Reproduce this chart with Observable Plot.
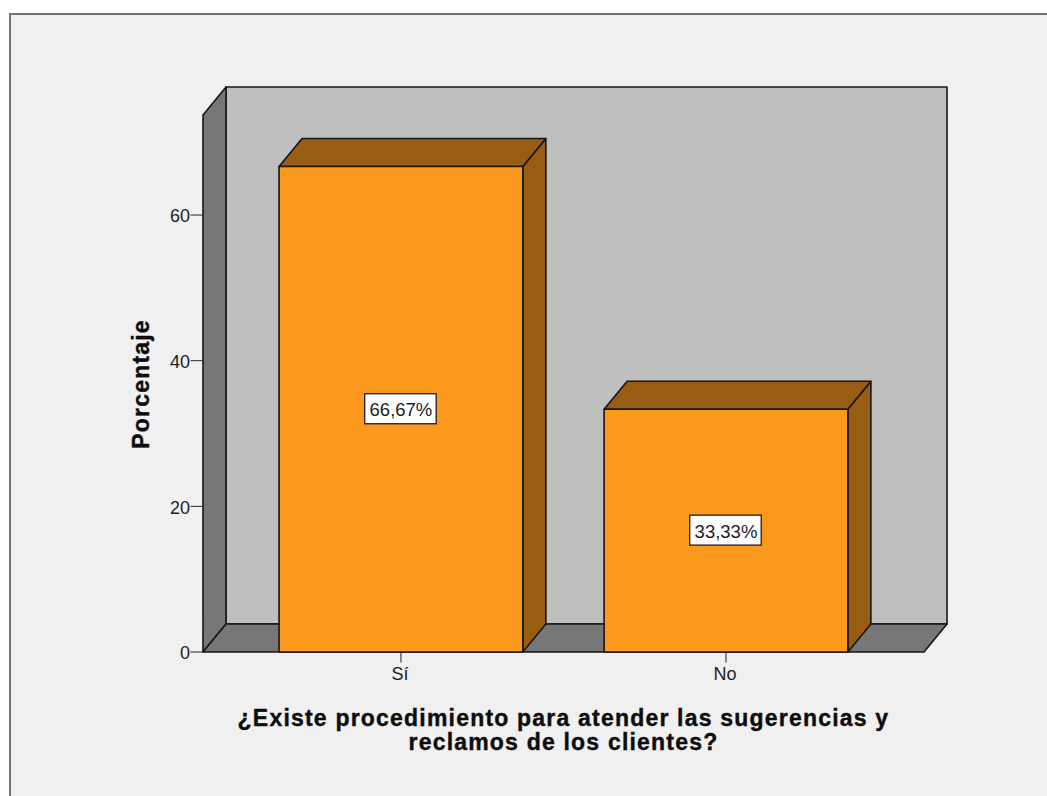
<!DOCTYPE html>
<html lang="es">
<head>
<meta charset="utf-8">
<script src="https://cdn.jsdelivr.net/npm/d3@7"></script>
<script src="https://cdn.jsdelivr.net/npm/@observablehq/plot@0.6"></script>
<style>
  html, body { margin: 0; padding: 0; background: #ffffff; }
  #panel { position: absolute; left: 9px; top: 13px; width: 1038px; height: 783px;
           background: #f0f0f0; border-top: 2px solid #737373; border-left: 2px solid #737373; box-sizing: border-box; }
  #chart { position: absolute; left: 0; top: 0; }
  #chart svg { background: transparent; display: block; }
  .axis-title { letter-spacing: 1.2px; }
</style>
</head>
<body>
<div id="panel"></div>
<div id="chart"></div>
<script>
// Survey answers, in percent
const categories = ["Sí", "No"];
const percentages = [66.67, 33.33];
const percentLabels = ["66,67%", "33,33%"];
const yTicks = [0, 20, 40, 60];

const xTitle = "¿Existe procedimiento para atender las sugerencias y\nreclamos de los clientes?";
const yTitle = "Porcentaje";

// Extent of the 3D box, in data units of each axis
const xMin = -0.609, xMax = 1.68, yMax = 77.58;
const depthX = 0.0708, depthY = 3.84;
const barHalf = 0.375;
const boxHalfX = 0.11, boxHalfY = 2.06;

const ink = "#161616";
const colors = { wall: "#bfbfbf", side: "#777777", bar: "#fb991e", barShade: "#985c12" };

const frontRight = xMax - depthX;
const wallTop = yMax - depthY;

// Each face is a closed polygon in data space
const poly = (pts) => [...pts, pts[0]].map(([x, y]) => ({ x, y }));
const face = (pts, fill) => Plot.line(poly(pts), {
  x: "x", y: "y", fill, stroke: ink, strokeWidth: 1.6, strokeLinejoin: "round", curve: "linear"
});

const shell = [
  face([[xMin + depthX, depthY], [xMax, depthY], [xMax, yMax], [xMin + depthX, yMax]], colors.wall),
  face([[xMin, 0], [xMin + depthX, depthY], [xMin + depthX, yMax], [xMin, wallTop]], colors.side),
  face([[xMin, 0], [frontRight, 0], [xMax, depthY], [xMin + depthX, depthY]], colors.side)
];

const bars = percentages.flatMap((v, i) => {
  const l = i - barHalf, r = i + barHalf;
  return [
    face([[r, 0], [r + depthX, depthY], [r + depthX, v + depthY], [r, v]], colors.barShade),
    face([[l, v], [l + depthX, v + depthY], [r + depthX, v + depthY], [r, v]], colors.barShade),
    face([[l, 0], [r, 0], [r, v], [l, v]], colors.bar)
  ];
});

const rows = percentages.map((v, i) => ({ i, v, label: percentLabels[i] }));

const chart = Plot.plot({
  width: 1047,
  height: 796,
  marginLeft: 202.5,
  marginRight: 100.5,
  marginTop: 86.5,
  marginBottom: 144.5,
  style: { fontFamily: "'Liberation Sans', Arial, sans-serif", background: "transparent" },
  x: { domain: [xMin, xMax] },
  y: { domain: [0, yMax] },
  marks: [
    ...shell,
    ...bars,
    Plot.rect(rows, {
      x1: (d) => d.i - boxHalfX, x2: (d) => d.i + boxHalfX,
      y1: (d) => d.v / 2 - boxHalfY, y2: (d) => d.v / 2 + boxHalfY,
      fill: "#ffffff", stroke: "#2a2a2a", strokeWidth: 1.4
    }),
    Plot.text(rows, {
      x: "i", y: (d) => d.v / 2, text: "label",
      dy: 1, fontSize: 18.5, fill: "#1c1c1c"
    }),
    // Tick lines and tick labels are separate so the labels can sit a little lower
    Plot.axisY({ ticks: yTicks, tickSize: 12, fill: "none", label: null, stroke: "#222" }),
    Plot.axisY({
      ticks: yTicks, tickSize: 0, tickPadding: 13, dy: 1.5, label: null,
      fontSize: 18, color: "#222", stroke: "none"
    }),
    Plot.axisX({ ticks: [0, 1], tickSize: 11, fill: "none", label: null, stroke: "#222" }),
    Plot.axisX({
      ticks: [0, 1], tickFormat: (d) => categories[d], tickSize: 0, tickPadding: 14, dy: 1, dx: -1,
      label: null, fontSize: 18, color: "#222", stroke: "none"
    }),
    Plot.text([xTitle], {
      x: () => 0.5, frameAnchor: "bottom", dy: 78, lineAnchor: "middle", lineHeight: 1.05,
      fontSize: 23, fontWeight: "bold", fill: "#0d0d0d", stroke: "#0d0d0d", strokeWidth: 0.4,
      className: "axis-title"
    }),
    Plot.text([yTitle], {
      y: () => 36.8, frameAnchor: "left", textAnchor: "middle", dx: -61, rotate: -90,
      fontSize: 23, fontWeight: "bold", fill: "#0d0d0d", stroke: "#0d0d0d", strokeWidth: 0.4,
      className: "axis-title"
    })
  ]
});
document.getElementById("chart").append(chart);
</script>
</body>
</html>
